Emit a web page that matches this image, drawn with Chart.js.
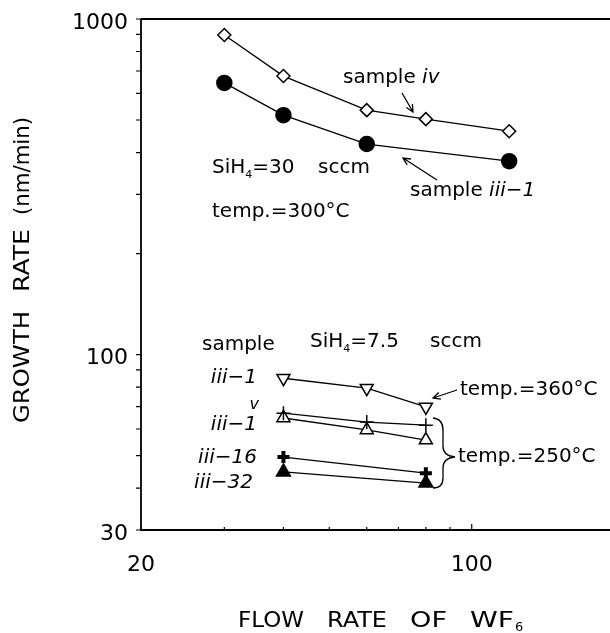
<!DOCTYPE html>
<html>
<head>
<meta charset="utf-8">
<script src="https://cdn.jsdelivr.net/npm/chart.js@4/dist/chart.umd.min.js"></script>
<style>
  html, body { margin: 0; padding: 0; background: #fff; overflow: hidden; }
  #wrap { width: 610px; height: 633px; }
</style>
</head>
<body>
<div id="wrap"><canvas id="chart" width="610" height="633"></canvas></div>
<script>
// flow rate of WF6 (sccm) and growth rate (nm/min)
const flowIv = [30, 40, 60, 80, 120];
const rateIv = [896, 676, 535, 503, 463];

const flowIii1hi = [30, 40, 60, 120];
const rateIii1hi = [645, 517, 424, 377];

const flow360 = [40, 60, 80];
const rate360 = [85, 79.4, 69.8];

const flowV = [40, 60, 80];
const rateV = [66.9, 62.9, 61.6];

const flowIii1lo = [40, 60, 80];
const rateIii1lo = [64.7, 59.6, 55.6];

const flowIii16 = [40, 80];
const rateIii16 = [49.5, 44.3];

const flowIii32 = [40, 80];
const rateIii32 = [44.7, 41.4];

const xTicks = [20, 30, 40, 50, 60, 70, 80, 90, 100];
const xLabels = [20, 100];
const yTicks = [30, 40, 50, 60, 70, 80, 90, 100, 200, 300, 400, 500, 600, 700, 800, 900, 1000];
const yLabels = [30, 100, 1000];

const FONT = "'DejaVu Sans', sans-serif";

function pts(xs, ys) {
    return xs.map((x, i) => ({ x: x, y: ys[i] }));
}

function series(xs, ys, style, opts) {
    return Object.assign({
        data: pts(xs, ys),
        showLine: true,
        borderColor: "#000",
        borderWidth: 1.3,
        pointStyle: style,
        pointBorderColor: "#000",
        pointBackgroundColor: "#fff",
        pointBorderWidth: 1.5,
        pointRadius: 6,
        pointHoverRadius: 6,
        fill: false,
    }, opts || {});
}

const datasets = [
    series(flowIv, rateIv, "rectRot", { pointRadius: 6.5 }),
    series(flowIii1hi, rateIii1hi, "circle", { pointRadius: 7.5, pointBackgroundColor: "#000" }),
    series(flow360, rate360, "triangle", { pointRadius: 7.5, pointRotation: 180 }),
    series(flowV, rateV, "cross", { pointRadius: 7, pointBorderWidth: 1.5 }),
    series(flowIii1lo, rateIii1lo, "triangle", { pointRadius: 7.5 }),
    series(flowIii16, rateIii16, "cross", { pointRadius: 6, pointBorderWidth: 4 }),
    series(flowIii32, rateIii32, "triangle", { pointRadius: 8, pointBackgroundColor: "#000" }),
];

// draws text pieces one after another, some italic or subscript
function richText(ctx, x, y, parts, size, align) {
    let total = 0;
    const widths = parts.map(p => {
        ctx.font = (p.it ? "italic " : "") + (p.sub ? size * 0.55 : size) + "px " + FONT;
        const w = ctx.measureText(p.t).width;
        total += w;
        return w;
    });
    let cx = align === "right" ? x - total : x;
    parts.forEach((p, i) => {
        ctx.font = (p.it ? "italic " : "") + (p.sub ? size * 0.55 : size) + "px " + FONT;
        ctx.textBaseline = "middle";
        ctx.textAlign = "left";
        ctx.fillText(p.t, cx, p.sub ? y + size * 0.35 : y);
        cx += widths[i];
    });
}

// the original face is wider than DejaVu, so stretch a word to a given width
function wideText(ctx, text, x, y, width, size) {
    ctx.font = size + "px " + FONT;
    ctx.textAlign = "left";
    ctx.textBaseline = "middle";
    const w = ctx.measureText(text).width;
    ctx.save();
    ctx.translate(x, y);
    ctx.scale(width / w, 1);
    ctx.fillText(text, 0, 0);
    ctx.restore();
}

function arrow(ctx, x1, y1, x2, y2) {
    const a = Math.atan2(y2 - y1, x2 - x1);
    ctx.beginPath();
    ctx.moveTo(x1, y1);
    ctx.lineTo(x2, y2);
    ctx.moveTo(x2 - 8 * Math.cos(a - 0.45), y2 - 8 * Math.sin(a - 0.45));
    ctx.lineTo(x2, y2);
    ctx.lineTo(x2 - 8 * Math.cos(a + 0.45), y2 - 8 * Math.sin(a + 0.45));
    ctx.stroke();
}

const decorations = {
    id: "decorations",
    afterDraw(chart) {
        const ctx = chart.ctx;
        const area = chart.chartArea;
        const xs = chart.scales.x;
        const ys = chart.scales.y;
        ctx.save();
        ctx.strokeStyle = "#000";
        ctx.fillStyle = "#000";

        // frame: left, bottom and top lines
        ctx.lineWidth = 1.8;
        ctx.beginPath();
        ctx.moveTo(area.left, area.top);
        ctx.lineTo(area.right, area.top);
        ctx.moveTo(area.left, area.top);
        ctx.lineTo(area.left, area.bottom);
        ctx.lineTo(area.right, area.bottom);
        ctx.stroke();

        // tick marks: y outward, x inward
        ctx.lineWidth = 1.2;
        ctx.beginPath();
        yTicks.forEach(v => {
            const p = ys.getPixelForValue(v);
            ctx.moveTo(area.left - 5, p);
            ctx.lineTo(area.left, p);
        });
        xTicks.forEach(v => {
            const p = xs.getPixelForValue(v);
            const len = v === 100 ? 6 : 3;
            ctx.moveTo(p, area.bottom);
            ctx.lineTo(p, area.bottom - len);
        });
        ctx.stroke();

        // axis titles, word by word to keep the wide spacing
        ctx.save();
        ctx.translate(23, 0);
        ctx.rotate(-Math.PI / 2);
        wideText(ctx, "GROWTH", -423, 0, 112, 22);
        wideText(ctx, "RATE", -292, 0, 63, 22);
        wideText(ctx, "(nm/min)", -215, 0, 98, 22);
        ctx.restore();
        wideText(ctx, "FLOW", 238, 621, 66, 22);
        wideText(ctx, "RATE", 327, 621, 60, 22);
        wideText(ctx, "OF", 410, 621, 37, 22);
        wideText(ctx, "WF", 470, 621, 44, 22);
        ctx.font = "13px " + FONT;
        ctx.fillText("6", 515, 628);

        // annotations
        const s = 20;
        richText(ctx, 343, 78, [{ t: "sample " }, { t: "iv", it: true }], s);
        richText(ctx, 212, 168, [{ t: "SiH" }, { t: "4", sub: true }, { t: "=30" }], s);
        richText(ctx, 318, 168, [{ t: "sccm" }], s);
        richText(ctx, 212, 212, [{ t: "temp.=300°C" }], s);
        richText(ctx, 410, 191, [{ t: "sample " }, { t: "iii\u22121", it: true }], s);
        richText(ctx, 202, 345, [{ t: "sample" }], s);
        richText(ctx, 310, 342, [{ t: "SiH" }, { t: "4", sub: true }, { t: "=7.5" }], s);
        richText(ctx, 430, 342, [{ t: "sccm" }], s);
        richText(ctx, 257, 378, [{ t: "iii\u22121", it: true }], s, "right");
        richText(ctx, 259, 405, [{ t: "v", it: true }], 16, "right");
        richText(ctx, 257, 425, [{ t: "iii\u22121", it: true }], s, "right");
        richText(ctx, 257, 458, [{ t: "iii\u221216", it: true }], s, "right");
        richText(ctx, 253, 483, [{ t: "iii\u221232", it: true }], s, "right");
        richText(ctx, 460, 390, [{ t: "temp.=360°C" }], s);
        richText(ctx, 458, 457, [{ t: "temp.=250°C" }], s);

        ctx.lineWidth = 1.3;
        arrow(ctx, 402, 93, 413, 112);
        arrow(ctx, 437, 180, 403, 158);
        arrow(ctx, 457, 390, 433, 398);

        // curly brace for the 250 C group
        ctx.beginPath();
        ctx.moveTo(433, 418);
        ctx.quadraticCurveTo(443, 419, 443, 430);
        ctx.lineTo(443, 446);
        ctx.quadraticCurveTo(443, 456, 455, 457);
        ctx.quadraticCurveTo(443, 458, 443, 468);
        ctx.lineTo(443, 478);
        ctx.quadraticCurveTo(443, 488, 433, 488);
        ctx.stroke();

        ctx.restore();
    }
};

new Chart(document.getElementById("chart"), {
    type: "scatter",
    data: { datasets },
    options: {
        responsive: false,
        animation: false,
        layout: { autoPadding: false, padding: { top: 19, right: 0, left: 0, bottom: 0 } },
        plugins: { legend: { display: false }, tooltip: { enabled: false } },
        scales: {
            x: {
                type: "logarithmic",
                min: 20,
                max: 196,
                afterFit(scale) {
                    scale.height = 103;
                    scale.paddingLeft = 0;
                    scale.paddingRight = 0;
                },
                afterBuildTicks(scale) { scale.ticks = xTicks.map(v => ({ value: v })); },
                grid: { display: false, drawTicks: false },
                border: { display: false },
                ticks: {
                    autoSkip: false,
                    maxRotation: 0,
                    padding: 22,
                    color: "#000",
                    font: { family: FONT, size: 22 },
                    callback: v => (xLabels.includes(v) ? String(v) : ""),
                },
            },
            y: {
                type: "logarithmic",
                min: 30,
                max: 1000,
                afterFit(scale) {
                    scale.width = 141;
                    scale.paddingTop = 0;
                    scale.paddingBottom = 0;
                },
                afterBuildTicks(scale) { scale.ticks = yTicks.map(v => ({ value: v })); },
                grid: { display: false, drawTicks: false },
                border: { display: false },
                ticks: {
                    autoSkip: false,
                    padding: 13,
                    labelOffset: 4,
                    color: "#000",
                    font: { family: FONT, size: 22 },
                    callback: v => (yLabels.includes(v) ? String(v) : ""),
                },
            },
        },
    },
    plugins: [decorations],
});
</script>
</body>
</html>
